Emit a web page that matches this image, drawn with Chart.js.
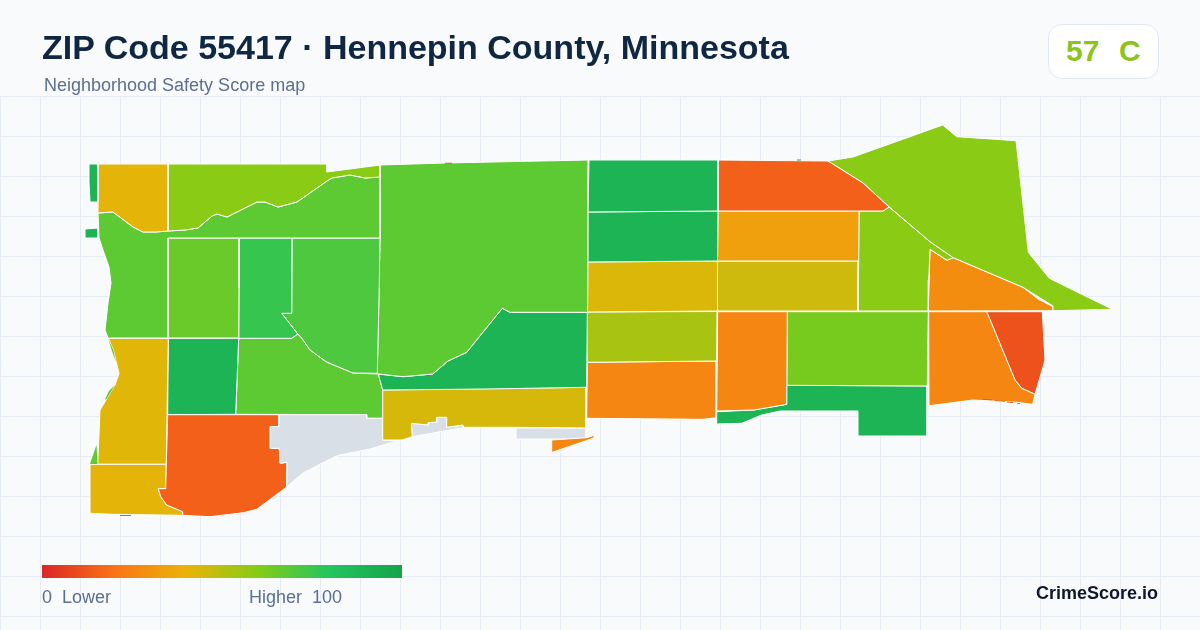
<!DOCTYPE html>
<html>
<head>
<meta charset="utf-8">
<title>ZIP Code 55417 · Hennepin County, Minnesota</title>
<script src="https://cdn.jsdelivr.net/npm/chart.js@4"></script>
<style>
html,body{margin:0;padding:0;background:#f8fafc;}
#wrap{position:relative;width:1200px;height:630px;overflow:hidden;background:#f8fafc;font-family:"Liberation Sans",Arial,sans-serif;}
#c{position:absolute;left:0;top:0;}
.t{position:absolute;white-space:pre;}
#title{left:42px;top:27px;font-size:34px;line-height:40px;font-weight:700;color:#0f2742;}
#sub{left:44px;top:75px;font-size:18px;line-height:20px;color:#5b6f8f;}
#badge{position:absolute;left:1048px;top:24px;width:109px;height:53px;border:1px solid #e2e8f0;border-radius:14px;background:#fff;}
#score{left:1066px;top:33px;font-size:30px;line-height:36px;font-weight:700;color:#8cc41a;word-spacing:1.5px;}
#bar{position:absolute;left:42px;top:565px;width:360px;height:13px;}
#lo{left:42px;top:587px;font-size:18px;line-height:20px;color:#5b6f8f;}
#hi{left:249px;top:587px;font-size:18px;line-height:20px;color:#5b6f8f;}
#brand{right:42px;top:582px;font-size:18px;line-height:22px;font-weight:700;color:#0f172a;}
</style>
</head>
<body>
<div id="wrap">
<canvas id="c" width="1200" height="630"></canvas>
<div class="t" id="title">ZIP Code 55417 · Hennepin County, Minnesota</div>
<div class="t" id="sub">Neighborhood Safety Score map</div>
<div id="badge"></div>
<div class="t" id="score">57  C</div>
<div id="bar"></div>
<div class="t" id="lo">0  Lower</div>
<div class="t" id="hi">Higher  100</div>
<div class="t" id="brand">CrimeScore.io</div>
</div>
<script>
// Colour ramp of the legend
const rampStops = [0, 20, 40, 60, 80, 100];
const rampColors = ['#dc2626', '#f97316', '#eab308', '#84cc16', '#22c55e', '#16a34a'];
const noDataColor = '#d9dfe6';

// Fragments of neighbouring tracts that peek out from the edges (no outline)
const fragmentScores = [68, 68, 68, 90, 90, 11.4, 11.4, 11.4, 11.4, 11.4];
const fragmentRings = [
  [108.3,339,113.3,350,116,362,112,351],
  [115,385,106.6,399,105,399.5,109,391],
  [96.5,445,90,464,97.5,464],
  [120,515,131,515,131,516,120,516],
  [797,159.6,801,159.6,801,160.4,797,160.4],
  [445,162.8,452,162.8,452,163.7,445,163.7],
  [983,398.9,992,399.5,992,400.3,983,399.7],
  [995,400.3,1005,401,1005,401.8,995,401.1],
  [1007,401.6,1013,402.1,1013,402.9,1007,402.4],
  [1017,402.9,1020,403.1,1020,403.9,1017,403.7]
];

// Safety score of each tract (null = no data)
const tractScores = [
  90, 90,
  41, 59, 68, 65.5, 76, 71, 68, 90, 44, null, null, 15, 41,
  42, 90, 68,
  90, 90, 15, 34, 45.7, 43, 53, 26, 26, null, 26, 62.6, 90,
  26, 11.4, 59, 59, 28
];

// Outline of each tract as x,y pairs in map units
const tractRings = [
  [89,164,98,164,98,202,90,202,89,182],
  [85,229,98,228,98,238,85,238],
  [98,164,168,164,168,231,156,232,143,232,133,227,113,212,98,213],
  [168,164,327,164,327,172,380,165,380,177,365,178,350,175,332,178,327,181,297,202,278,207,265,202,257,202,227,217,217,214,212,216,198,228,185,230,168,231],
  [98,213,113,212,133,227,143,232,156,232,168,231,185,230,198,228,212,216,217,214,227,217,257,202,265,202,278,207,297,202,327,181,332,178,350,175,365,178,380,177,380,238,168,238,168,338,108,338,105,330,108,303,111,283,109,267,103,250,99,238],
  [168,238,239,238,239,288,238.7,338,168,338],
  [239,238,292,238,291.7,313.3,281.7,313.3,297.7,334,291.7,338.3,238.7,338.3,239,288],
  [292,238,380,238,379,300,377.3,373.3,353,373,326.7,362,310,350,301.7,338,297.7,334,281.7,313.3,291.7,313.3],
  [380,165,445,163,588,160,587.5,312.3,510,312.3,502.3,308.3,466.7,352.3,448,361,432.7,374,403,376.7,378.3,374,377.3,373.3,380,238],
  [378.3,374,403,376.7,432.7,374,448,361,466.7,352.3,502.3,308.3,510,312.3,587.3,312.3,586.7,387.3,485,389,416.7,389.7,382.7,390],
  [382.7,390,586.7,387.3,586,428,516.7,427.3,463.7,427.3,463,425,446.7,427.3,446.7,417.3,436.7,417.3,436.7,422,428.3,422.7,428.3,425,411.3,423.3,412.3,436.7,402,440,382.7,440],
  [411.3,423.3,428.3,425,428.3,422.7,436.7,422,436.7,417.3,446.7,417.3,446.7,427.3,463,425,463.7,427.5,412.3,436.7],
  [279,414.7,366.7,414.7,366.7,418.3,382.7,418.3,382.7,440,398,440.5,370,449,340,455,335,456.7,303,473,286.7,487,287,462.3,280,463.3,279.3,448.3,270.3,448.3,270.3,426.7,279,426.7],
  [167.7,414.7,279,414.7,279,426.7,270.3,426.7,270.3,448.3,279.3,448.3,280,463.3,287,462.3,286.7,487,256.7,509.3,243.3,512.7,210,516.7,182.7,515.3,182.7,511.7,166.7,505,160.7,496.7,158.3,488.7,165.7,488.7,166.3,464.3],
  [90,464.3,166.3,464.3,165.7,488.7,158.3,488.7,160.7,496.7,166.7,505,182.7,511.7,182.7,515.3,113.3,514.3,90,513.3],
  [108.3,338.3,168.3,338.3,167.7,370,166.3,464.3,97.7,464.3,100,410,115,385,119,373.3,113.3,350],
  [168.3,338.3,238.7,338.3,235.7,414.3,167.7,414.7],
  [238.7,338.3,291.7,338.3,297.7,334,301.7,338,310,350,326.7,362,353,373,378.3,374,382.7,390,382.7,418.3,366.7,418.3,366.7,414.7,235.7,414.3],
  [589,160,718,160,718,211,588,212],
  [588,212,718,211,717.5,261,588,262],
  [718,160,828,161,863,183,889,207,883,211,718,211],
  [718,211,859,211,858.7,261,717.5,261],
  [717.5,261,858.7,261,858,311,717.5,311],
  [588,262,717.5,261,717.5,311,587.5,312],
  [587.5,312,717,311.5,716.7,361,587.3,362.3],
  [587.3,362.3,716.7,361,716,417.7,703,419.3,586.7,418.3],
  [551.7,440,586.7,437.7,595,435,593.3,438.3,551,452.7],
  [516,428,586,428,586,439,516,439],
  [717.7,311.7,787.3,311.7,786.7,404.3,754,410,716.7,411],
  [787.3,311.7,928.3,311.7,927.3,386,786.7,385.3],
  [786.7,385.3,927.3,386,927,436,858,436,858,411,780,411,761.7,415,741.7,423.3,716.7,424,716.7,411.7,754,410,786.7,404.3],
  [928.7,311.7,986.7,311.7,1015,380,1021.7,388.3,1035,394.3,1032.7,404.3,1016.7,402.3,973,400,929,405.7],
  [986.7,311.7,1042.3,311.7,1045,360,1035,394.3,1021.7,388.3,1015,380],
  [828,161,853,157,942.7,125,956.7,136.7,1016,140.7,1028.3,252.3,1049.3,278.3,1112.3,309.3,1053.3,310.7,1053,306,1023,287.3,953.3,257.7,930,241.7,889,206.7,863,183],
  [859,211,883,211,889,207,930,241.7,953.3,257.7,947,260.3,930,249.3,928.7,280,928.3,311,858,311],
  [930,249.3,947,260.3,953.3,257.7,1023,287.3,1038,299,1053,306.7,1053.3,310.7,928.3,311]
];

// Background grid line positions
const gridX = [];
for (let v = 0.5; v < 1200; v += 40) gridX.push(v);
const gridY = [];
for (let v = 96.5; v < 630; v += 40) gridY.push(v);

function hex(c){return [1,3,5].map(i=>parseInt(c.substr(i,2),16));}
function scoreColor(s){
  if (s === null) return noDataColor;
  let i = 0;
  while (i < rampStops.length - 2 && s > rampStops[i+1]) i++;
  const t = (s - rampStops[i]) / (rampStops[i+1] - rampStops[i]);
  const a = hex(rampColors[i]), b = hex(rampColors[i+1]);
  return 'rgb(' + a.map((v,k)=>Math.round(v + (b[k]-v)*t)).join(',') + ')';
}
function toPoints(r){
  const p = [];
  for (let i = 0; i < r.length; i += 2) p.push({x:r[i], y:r[i+1]});
  p.push({x:r[0], y:r[1]});
  return p;
}
function polygon(ring, score, width, order){
  const color = scoreColor(score);
  return {
    data: toPoints(ring),
    order: order,
    showLine: true,
    fill: 'shape',
    tension: 0,
    pointRadius: 0,
    borderWidth: width,
    borderColor: width ? '#ffffff' : color,
    backgroundColor: color
  };
}

document.getElementById('bar').style.background = 'linear-gradient(90deg,' +
  rampColors.map((c,i)=>c+' '+rampStops[i]+'%').join(',') + ')';

new Chart(document.getElementById('c'), {
  type: 'scatter',
  data: {
    datasets: tractRings.map((r,i)=>polygon(r, tractScores[i], 1, 1))
      .concat(fragmentRings.map((r,i)=>polygon(r, fragmentScores[i], 0, 0)))
  },
  options: {
    responsive: false,
    animation: false,
    layout: {padding: {top: 96.5, left: 0, right: 0, bottom: 0}},
    plugins: {legend: {display: false}, tooltip: {enabled: false}, title: {display: false}},
    scales: {
      x: {
        type: 'linear', min: 0, max: 1200,
        afterBuildTicks: a => { a.ticks = gridX.map(v=>({value:v})); },
        ticks: {display: false},
        border: {display: false},
        grid: {color: '#e6ecf3', lineWidth: 1, drawTicks: false}
      },
      y: {
        type: 'linear', min: 96.5, max: 630, reverse: true,
        afterBuildTicks: a => { a.ticks = gridY.map(v=>({value:v})); },
        ticks: {display: false},
        border: {display: false},
        grid: {color: '#e6ecf3', lineWidth: 1, drawTicks: false}
      }
    }
  }
});
</script>
</body>
</html>
